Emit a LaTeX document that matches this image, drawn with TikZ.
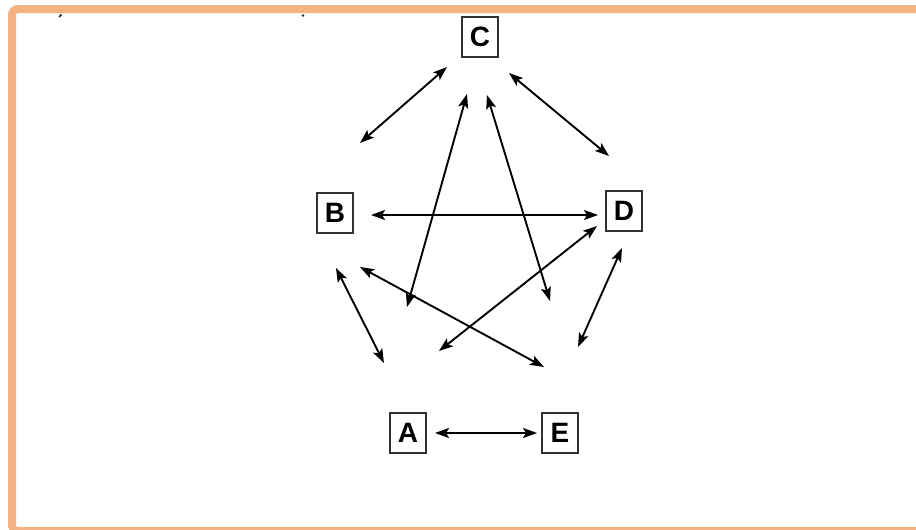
\documentclass[tikz,border=0pt]{standalone}
\usepackage{fontspec}
\setmainfont{Liberation Sans}
\usetikzlibrary{arrows.meta}
\definecolor{frameorange}{RGB}{245,178,131}
\tikzset{
  letterbox/.style={draw=black!80, line width=2pt, fill=white,
    minimum width=36pt, minimum height=40pt, inner sep=0pt,
    font=\fontsize{28}{28}\selectfont\bfseries},
  tip/.tip={Stealth[length=14pt,width=10pt,inset=3pt]},
  link/.style={line width=1.9pt, tip-tip},
  frameline/.style={draw=frameorange, line width=8pt, rounded corners=6pt},
}
\begin{document}
\begin{tikzpicture}[x=1pt,y=-1pt]
  \useasboundingbox (0,0) rectangle (916,530);
  \fill[white] (0,0) rectangle (916,530);
  % slide frame, partly cut off at the right and bottom
  \begin{scope}
    \clip (0,0) rectangle (916,530);
    \draw[frameline] (12,9) rectangle (924,531);
  \end{scope}
  % specks of clipped text along the top edge
  \draw[line width=1.6pt, black!85] (59,17) -- (61.5,14.5);
  \fill[black!85] (303,15.5) circle (1.4pt);

  % nodes
  \node[letterbox] (C) at (480,37) {C};
  \node[letterbox] (B) at (335,213) {B};
  \node[letterbox] (D) at (624,211) {D};
  \node[letterbox] (A) at (408,433) {A};
  \node[letterbox] (E) at (560,433) {E};

  % free ends of the connectors
  \coordinate (cb1) at (447,67);  \coordinate (cb2) at (360,143);
  \coordinate (cd1) at (509,73);  \coordinate (cd2) at (609,156);
  \coordinate (bd1) at (371,215); \coordinate (bd2) at (598,215);
  \coordinate (cl1) at (467,94);  \coordinate (cl2) at (407,307);
  \coordinate (cr1) at (487,95);  \coordinate (cr2) at (550,301);
  \coordinate (ba1) at (336,268); \coordinate (ba2) at (384,363);
  \coordinate (be1) at (360,267); \coordinate (be2) at (544,367);
  \coordinate (da1) at (597,226); \coordinate (da2) at (439,351);
  \coordinate (de1) at (622,248); \coordinate (de2) at (578,347);
  \coordinate (ae1) at ([xshift=8pt]A.east); \coordinate (ae2) at ([xshift=-4pt]E.west);

  % connectors
  \draw[link] (cb1) -- (cb2);
  \draw[link] (cd1) -- (cd2);
  \draw[link] (bd1) -- (bd2);
  \draw[link] (cl1) -- (cl2);
  \draw[link] (cr1) -- (cr2);
  \draw[link] (ba1) -- (ba2);
  \draw[link] (be1) -- (be2);
  \draw[link] (da1) -- (da2);
  \draw[link] (de1) -- (de2);
  \draw[link] (ae1) -- (ae2);
\end{tikzpicture}
\end{document}
